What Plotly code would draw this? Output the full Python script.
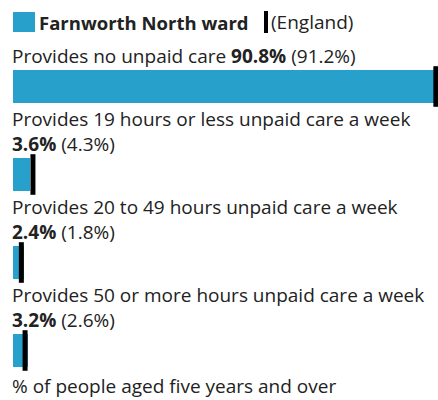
import plotly.graph_objects as go

categories = [
    "Provides no unpaid care",
    "Provides 19 hours or less unpaid care a week",
    "Provides 20 to 49 hours unpaid care a week",
    "Provides 50 or more hours unpaid care a week",
]
area_values = [90.8, 3.6, 2.4, 3.2]
england_values = [91.2, 4.3, 1.8, 2.6]
area_name = "Farnworth North ward"
comparison_name = "England"
footer = "% of people aged five years and over"

BLUE = "#27a0cc"
TEXT = "#222222"
FONT = "Open Sans"
FS = 19

W, H = 438, 400
left_px = 13
px_per_unit = (434 - left_px) / 90.8
x0 = -left_px / px_per_unit
x1 = (W - left_px) / px_per_unit

first_center = 86.5
spacing = 88.0
bar_px = 33.0
y_top = (0 - first_center) / spacing
y_bot = (H - first_center) / spacing
bar_w = bar_px / spacing

ypos = list(range(len(categories)))

fig = go.Figure()
fig.add_trace(go.Bar(
    x=area_values, y=ypos, orientation="h", width=bar_w,
    marker=dict(color=BLUE, line=dict(width=0)),
    name=area_name, showlegend=False, hoverinfo="skip",
))
fig.add_trace(go.Scatter(
    x=england_values, y=ypos, mode="markers",
    marker=dict(symbol="line-ns", size=bar_px - 4, color="black",
                line=dict(color="black", width=5)),
    name=comparison_name, showlegend=False, hoverinfo="skip",
))

annotations = []
for i, (lab, v, e) in enumerate(zip(categories, area_values, england_values)):
    sep = " " if len(lab) < 30 else "<br>"
    txt = f"{lab}{sep}<b>{v}%</b> ({e}%)"
    annotations.append(dict(
        x=0, y=i - bar_w / 2, xref="x", yref="y",
        xanchor="left", yanchor="bottom", align="left",
        text=txt, showarrow=False, yshift=-1, xshift=-3,
        font=dict(family=FONT, size=FS, color=TEXT),
    ))

# legend
annotations.append(dict(
    x=40 / W, y=1 - 22 / H, xref="paper", yref="paper",
    xanchor="left", yanchor="middle", showarrow=False, xshift=-3,
    text=f"<b>{area_name}</b>", font=dict(family=FONT, size=18.5, color=TEXT),
))
annotations.append(dict(
    x=272 / W, y=1 - 22 / H, xref="paper", yref="paper",
    xanchor="left", yanchor="middle", showarrow=False, xshift=-3,
    text=f"({comparison_name})", font=dict(family=FONT, size=FS, color=TEXT),
))
annotations.append(dict(
    x=13 / W, y=1 - 386 / H, xref="paper", yref="paper",
    xanchor="left", yanchor="middle", showarrow=False, xshift=-3,
    text=footer, font=dict(family=FONT, size=FS, color=TEXT),
))

shapes = [
    dict(type="rect", xref="paper", yref="paper",
         x0=13 / W, x1=35 / W, y0=1 - 32 / H, y1=1 - 12 / H,
         fillcolor=BLUE, line=dict(width=0)),
    dict(type="rect", xref="paper", yref="paper",
         x0=264 / W, x1=268 / W, y0=1 - 33 / H, y1=1 - 11 / H,
         fillcolor="black", line=dict(width=0)),
]

fig.update_layout(
    width=W, height=H,
    margin=dict(l=0, r=0, t=0, b=0),
    paper_bgcolor="white", plot_bgcolor="white",
    xaxis=dict(range=[x0, x1], visible=False, fixedrange=True),
    yaxis=dict(range=[y_bot, y_top], visible=False, fixedrange=True),
    annotations=annotations, shapes=shapes,
    bargap=0, showlegend=False,
)

fig.write_html("out.html", config={"displayModeBar": False})
